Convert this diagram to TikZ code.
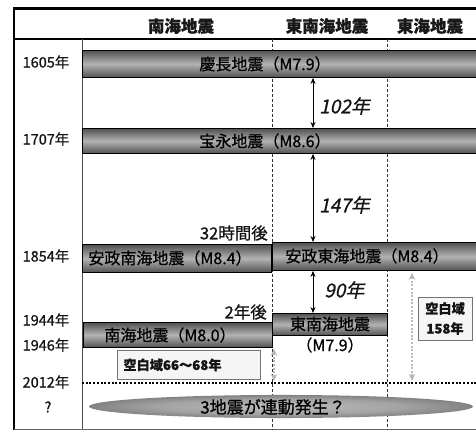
\documentclass[tikz,border=0pt]{standalone}
\usepackage{fontspec}
\setmainfont{Noto Sans CJK JP}[FakeBold=0.8]
\newfontfamily\jpit{Noto Sans CJK JP}[FakeSlant=0.22,FakeBold=0.6]
\usetikzlibrary{arrows.meta,shapes.geometric}
\pgfdeclareradialshading{ellshade}{\pgfpoint{0bp}{0bp}}{color(0bp)=(black!26); color(16bp)=(black!36); color(30bp)=(black!56); color(42bp)=(black!74); color(50bp)=(black!86); color(100bp)=(black!86)}
\begin{document}
\begin{tikzpicture}[x=1pt,y=-1pt,
  bar/.style={draw=black, line width=0.9pt, top color=black!68, bottom color=black!68, middle color=black!30, inner sep=0pt, anchor=north west},
  bartext/.style={font=\fontsize{16}{16}\selectfont, text=black, inner sep=0pt},
  head/.style={font=\bfseries\fontsize{16.5}{16.5}\selectfont, text=black!90, inner sep=0pt},
  yearlab/.style={font=\fontsize{14.5}{14.5}\selectfont, text=black!92, inner sep=0pt},
  note/.style={font=\fontsize{16.5}{16.5}\selectfont, text=black!92, inner sep=0pt, anchor=east},
  gaplab/.style={font=\jpit\fontsize{19}{19}\selectfont, text=black!92, inner sep=0pt, anchor=west},
  colline/.style={black!80, line width=0.7pt, dash pattern=on 3pt off 2pt},
  gaparrow/.style={black, line width=0.8pt, {Stealth[length=6pt,width=5pt]}-{Stealth[length=6pt,width=5pt]}},
  greyarrow/.style={black!28, line width=2pt, dash pattern=on 2pt off 1.6pt, {Stealth[length=7pt,width=6.5pt]}-{Stealth[length=7pt,width=6.5pt]}},
  emptybox/.style={draw=black!55, fill=black!4, line width=0.8pt, font=\bfseries\fontsize{13.2}{20}\selectfont, text=black!92}]
\useasboundingbox (0,0) rectangle (476,430);
\clip (0,0) rectangle (476,430);
\fill[white] (0,0) rectangle (476,430);
% frame
\draw[line width=2.7pt] (14,430) -- (14,8.3) -- (476,8.3);
\draw[line width=1.2pt] (14,39) -- (476,39);
\draw[black!70, line width=0.6pt] (82,39) -- (82,430);
\draw[black!60, line width=0.6pt] (14,429) -- (476,429);
\draw[colline] (272,39) -- (272,430);
\draw[colline] (387,39) -- (387,430);
% headers
\node[head] (h1) at (181,26) {南海地震};
\node[head] (h2) at (327,26) {東南海地震};
\node[head] (h3) at (430,26) {東海地震};
% years
\node[yearlab] (y1) at (46,62) {1605年};
\node[yearlab] (y2) at (46,139) {1707年};
\node[yearlab] (y3) at (46,256) {1854年};
\node[yearlab] (y4) at (46,320) {1944年};
\node[yearlab] (y5) at (46,345) {1946年};
\node[yearlab] (y6) at (46,382) {2012年};
\node[yearlab] (y7) at (48,407) {?};
% dotted 2012 line
\coordinate (d0) at (82,383);
\coordinate (d1) at (476,383);
\draw[black, line width=2pt, dash pattern=on 2pt off 1.7pt] (d0) -- (d1);
% bars
\node[bar, minimum width=400pt, minimum height=27pt] (b1) at (82,50) {};
\node[bar, minimum width=400pt, minimum height=25pt] (b2) at (82,128) {};
\node[bar, minimum width=189pt, minimum height=28pt] (b3l) at (82,244) {};
\node[bar, minimum width=210pt, minimum height=28pt] (b3r) at (272,242) {};
\node[bar, minimum width=189pt, minimum height=25pt] (b4l) at (83,322) {};
\node[bar, minimum width=115pt, minimum height=22pt] (b4r) at (272,313) {};
\node[bartext] (t1) at (265,64) {慶長地震（M7.9）};
\node[bartext] (t2) at (265,141) {宝永地震（M8.6）};
\node[bartext] (t3l) at (170,258) {安政南海地震（M8.4）};
\node[bartext] (t3r) at (367,256) {安政東海地震（M8.4）};
\node[bartext] (t4l) at (170,335) {南海地震（M8.0）};
\node[bartext] (t4r) at (330,324) {東南海地震};
\node[bartext] (t4m) at (330,345) {（M7.9）};
% notes
\node[note] (n1) at (268,233) {32時間後};
\node[note] (n2) at (267,312) {2年後};
% interval arrows
\coordinate (ax) at (313,0);
\draw[gaparrow] (b1.south -| ax) -- (b2.north -| ax);
\draw[gaparrow] (b2.south -| ax) -- (b3r.north -| ax);
\draw[gaparrow] (b3r.south -| ax) -- (b4r.north -| ax);
\node[gaplab] (g102) at (319,106) {102年};
\node[gaplab] (g147) at (319,205) {147年};
\node[gaplab] (g90) at (324,290) {90年};
% grey arrows
\coordinate (ga) at (274,381);
\coordinate (gb) at (412,381);
\draw[greyarrow] (b4l.south -| ga) ++(0,1) -- (ga);
\draw[greyarrow] (b3r.south -| gb) ++(0,2) -- (gb);
% empty boxes
\node[emptybox, anchor=north west, minimum width=143pt, minimum height=29pt, text width=131pt, inner xsep=6pt, align=left] (e1) at (117,350) {空白域66～68年};
\node[emptybox, minimum width=54pt, minimum height=43pt, inner sep=0pt, align=center] (e2) at (445,318.5) {空白域\\158年};
% ellipse
\begin{scope}[transform canvas={shift={(281,406.5)}, yscale=0.06}]
  \shade[shading=ellshade] (0,0) circle (192);
\end{scope}
\node[font=\fontsize{17}{17}\selectfont, text=black, inner sep=0pt] (elt) at (273,407) {3地震が連動発生？};
\end{tikzpicture}
\end{document}
